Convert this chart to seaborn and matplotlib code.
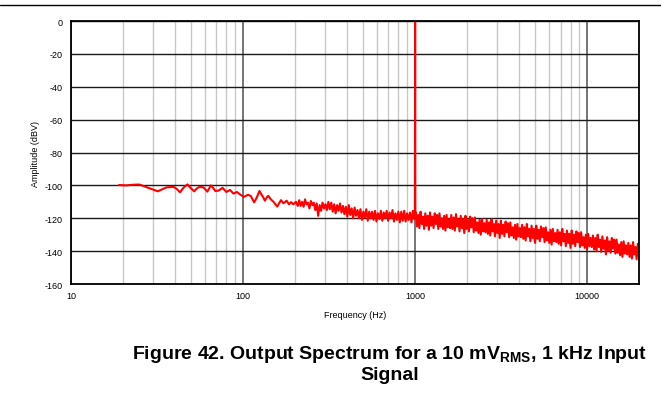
import numpy as np
import pandas as pd
import matplotlib
matplotlib.use("Agg")
import matplotlib.pyplot as plt
import seaborn as sns

# ====================================
# 데이터
# ====================================
# 저주파 구간: (주파수, 진폭) 직접 읽은 값
low_freq = [19, 21, 23, 25, 27, 30, 32, 34, 36, 39.4, 41, 43, 45, 47.5, 49.5,
            52, 54, 56, 59, 62, 65, 67, 69, 72, 76, 80, 84, 88, 92, 96, 101,
            107, 111, 116, 120, 124.5, 128, 131, 134, 137, 140, 145, 150, 158,
            166, 172, 179, 185, 190, 196, 203, 208]
low_amp = [-99.8, -100, -99.6, -99.5, -100.8, -102.5, -103.6, -102.3, -101.2,
           -100.9, -102, -104.2, -101.5, -99.4, -101.5, -103.6, -101.8, -100.8,
           -101.3, -103.8, -100, -101.5, -103.4, -103.2, -101.5, -104, -102.8,
           -105, -104, -105.5, -107, -105.7, -106.5, -110.3, -107.5, -103.4,
           -105.5, -107.3, -109.3, -107.5, -106.3, -108.5, -109.9, -112.9, -109,
           -110.9, -109.3, -111.5, -110.2, -111.5, -110, -112.5]

# 212 Hz ~ 990 Hz 잡음 구간
mid_range = (212, 990)
mid_amp = [
    -109, -112.5, -110, -113, -108.5, -111.5, -110.5, -114, -109.5, -112,
    -110.5, -115, -111, -118.5, -112, -115.5, -110.5, -114, -111.5, -115,
    -110, -114.5, -110.5, -116, -111.5, -117, -112, -115.5, -111, -116.5,
    -112.5, -117.5, -113, -119, -112, -118, -114, -120, -113.5, -118.5,
    -115, -120, -114.5, -121, -116, -119.5, -114.5, -121.5, -116, -120,
    -116, -121, -115.5, -122, -117, -120.5, -115.5, -121.5, -116.5, -120,
    -115.5, -121.5, -116.5, -120, -115, -122, -117, -121, -116, -122.5,
    -116, -121.5, -115.5, -122, -117, -121, -116.5, -122.5, -115.5, -120.5,
]

# 1 kHz 입력 신호 피크
peak_freq = [997, 1000, 1003]
peak_amp = [-119, 0, -119]

# 1010 Hz ~ 20 kHz 잡음 구간
high_range = (1010, 20000)
high_amp = [
    -116.5, -125, -118, -126, -116, -123.5, -119, -126.5, -117, -124.5,
    -118.5, -127, -116.5, -124.5, -119, -126, -117, -123.5, -118, -126.5,
    -117, -125, -120, -126.5, -118.5, -127.5, -118, -125.5, -120.5, -126,
    -118, -126.5, -119.5, -127.5, -117.5, -125, -120.5, -128, -118.5, -126,
    -120.5, -129, -118.5, -126.5, -121, -128, -119, -125.5, -120, -128.5,
    -119.5, -127.5, -122.5, -129, -121, -130, -120.5, -128, -123, -128.5,
    -121, -129.5, -122.5, -130.5, -120.5, -128, -123.5, -131, -121.5, -129,
    -123.5, -132, -121.5, -129.5, -124, -131, -122, -128.5, -123, -131.5,
    -122.5, -130.5, -125.5, -132, -124, -133, -123.5, -131, -126, -131.5,
    -124, -132.5, -125.5, -133.5, -123.5, -131, -126.5, -134, -124.5, -132,
    -126.5, -135, -124.5, -132.5, -127, -134, -125, -131.5, -126, -134.5,
    -125.5, -133.5, -128.5, -135, -127, -136, -126.5, -134, -129, -134.5,
    -127, -135.5, -128.5, -136.5, -126.5, -134, -129.5, -137, -127.5, -135,
    -129.5, -138, -127.5, -135.5, -130, -137, -128, -134.5, -129, -137.5,
    -128.5, -136.5, -131.5, -138, -130, -139, -129.5, -137, -132, -137.5,
    -130.5, -139, -132, -140, -130, -137.5, -133, -140.5, -131, -138.5,
    -133.5, -142, -131.5, -139.5, -134, -141, -132, -138.5, -133, -141.5,
    -133, -141, -136, -142.5, -134.5, -143.5, -134, -141.5, -136.5, -142,
    -135, -143.5, -136.5, -144.5, -134.5, -142, -137.5, -145, -135.5, -143,
]

y_ticks = [0, -20, -40, -60, -80, -100, -120, -140, -160]
x_ticks = [10, 100, 1000, 10000]
x_ticklabels = ["10", "100", "1000", "10000"]

# 주파수 축 샘플 위치 (각 구간을 로그 간격으로 나눔)
mid_freq = np.geomspace(mid_range[0], mid_range[1], len(mid_amp))
high_freq = np.geomspace(high_range[0], high_range[1], len(high_amp))

df = pd.DataFrame({
    "freq": np.concatenate([low_freq, mid_freq, peak_freq, high_freq]),
    "amp": np.concatenate([low_amp, mid_amp, peak_amp, high_amp]),
})

# ====================================
# 그래프 설정
# ====================================
sns.set_style("white")
plt.rcParams["font.family"] = ["Liberation Sans", "DejaVu Sans"]
plt.rcParams["axes.unicode_minus"] = False
plt.rcParams["text.color"] = "black"
plt.rcParams["axes.labelcolor"] = "black"
plt.rcParams["mathtext.fontset"] = "custom"
plt.rcParams["mathtext.rm"] = "Liberation Sans:bold"

fig = plt.figure(figsize=(6.61, 4.06), dpi=100)
ax = fig.add_axes([0.1074, 0.298, 0.8593, 0.6478])

ax.set_xscale("log")
ax.set_xlim(10, 20000)
ax.set_ylim(-160, 0)

# 격자: 보조(연회색) / 주(진회색) / 가로(검정)
minor_lines = [m * d for d in (10, 100, 1000) for m in range(2, 10)] + [20000]
for xv in minor_lines:
    ax.axvline(xv, color="#c8c8c8", lw=1.0, zorder=0)
for xv in x_ticks:
    ax.axvline(xv, color="#505050", lw=1.1, zorder=0.5)
for yv in y_ticks:
    ax.axhline(yv, color="#1a1a1a", lw=1.0, zorder=0.5)

sns.lineplot(
    data=df,
    x="freq",
    y="amp",
    color="#ff0000",
    lw=1.5,
    sort=False,
    estimator=None,
    ax=ax,
    zorder=3
)

ax.set_xticks(x_ticks)
ax.set_xticklabels(x_ticklabels)
ax.xaxis.set_minor_locator(matplotlib.ticker.NullLocator())
ax.set_yticks(y_ticks)
ax.set_yticklabels([str(v) for v in y_ticks])
ax.tick_params(axis="both", length=0, labelsize=6.5, colors="black")
ax.tick_params(axis="y", pad=6)
ax.tick_params(axis="x", pad=5)

for sp in ax.spines.values():
    sp.set_visible(True)
    sp.set_color("black")
    sp.set_linewidth(1.3)
    sp.set_zorder(4)

ax.set_xlabel("Frequency (Hz)", fontsize=6.5)
ax.set_ylabel("Amplitude (dBV)", fontsize=6.5)
ax.xaxis.set_label_coords(0.5, -0.1)
ax.yaxis.set_label_coords(-0.054, 0.5)

# 상단 구분선
fig.add_artist(plt.Line2D([0, 1], [0.985, 0.985], color="black", lw=1.0,
                          transform=fig.transFigure))

fig.text(
    0.59, 0.152,
    "Figure 42. Output Spectrum for a 10 mV$_{\\mathrm{RMS}}$, 1 kHz Input\nSignal",
    ha="center",
    va="top",
    fontsize=14,
    fontweight="bold",
    color="black",
    multialignment="center",
    linespacing=1.1
)

fig.savefig("out.png", dpi=100)
